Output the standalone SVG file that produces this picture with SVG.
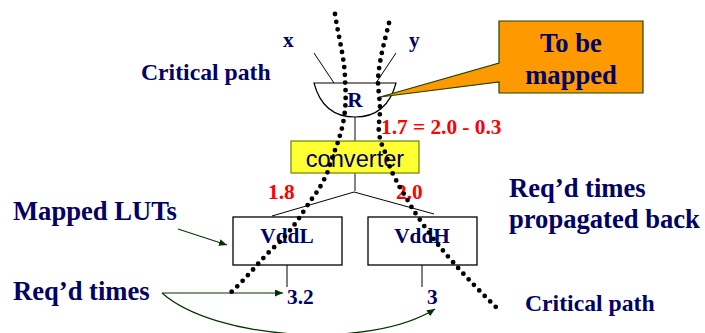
<svg xmlns="http://www.w3.org/2000/svg" width="705" height="333" viewBox="0 0 705 333">
<style>
text{font-family:"Liberation Serif","Times New Roman",serif;font-weight:bold;fill:#000066}
.r{fill:#ff0000}
.l{font-size:26.6px}
.m{font-size:23.7px}
.s{font-size:21.3px}
.ln{fill:none;stroke:#000;stroke-width:1}
.g{fill:none;stroke:#003300;stroke-width:1.2}
.dot{fill:none;stroke:#000;stroke-width:4.8;stroke-linecap:round;stroke-dasharray:0 7.7}
.box{fill:#fff;stroke:#000;stroke-width:1.3}
</style>
<defs>
<marker id="a" markerUnits="userSpaceOnUse" markerWidth="10" markerHeight="8" refX="8" refY="3.5" orient="auto"><path d="M0 0L8 3.5L0 7z" fill="#003300"/></marker>
</defs>
<rect width="705" height="333" fill="#fff"/>
<g id="connectors">
<path class="ln" d="M314 53L334 83M396 53L376 83"/>
<path d="M355 117V141" fill="none" stroke="#444" stroke-width="1.3"/>
<path d="M355 173V191" fill="none" stroke="#444" stroke-width="1.3"/>
<path class="ln" d="M272 216L354 192L434 214"/>
<path class="ln" d="M287 263V287M422 263V287"/>
<path class="g" marker-end="url(#a)" d="M178 229L227 245"/>
<path class="g" marker-end="url(#a)" d="M162 293H283"/>
<path class="g" marker-end="url(#a)" d="M162 293C215 340 370 350 435 309"/>
</g>
<g id="R"><path d="M314 83H396C391 102 380 117 355 117C330 117 319 102 314 83Z" fill="#fff" stroke="#000" stroke-width="1.2"/><text x="355" y="107" text-anchor="middle" class="s">R</text></g>
<g id="converter"><rect x="291" y="141" width="128" height="32" fill="#ffff33" stroke="#668800" stroke-width="1.2"/><text x="355" y="167" text-anchor="middle" style="font-family:'Liberation Sans',Arial,sans-serif;font-weight:normal;font-size:23.6px">converter</text></g>
<g id="VddL"><rect class="box" x="233" y="217" width="109" height="48"/><text x="287" y="243" text-anchor="middle" class="s">VddL</text></g>
<g id="VddH"><rect class="box" x="368" y="217" width="109" height="48"/><text x="422" y="243" text-anchor="middle" class="s">VddH</text></g>
<g id="callout"><path d="M499 21H643V93H499V82L380 97L499 63Z" fill="#ff9900" stroke="#224400" stroke-width="1.2"/><text x="571" y="52" text-anchor="middle" class="l">To be</text><text x="571" y="84" text-anchor="middle" class="l">mapped</text></g>
<g id="labels">
<text x="283" y="47" class="s">x</text>
<text x="409" y="47" class="s">y</text>
<text x="141" y="80" class="m">Critical path</text>
<text x="381" y="134" class="r s">1.7 = 2.0 - 0.3</text>
<text x="268" y="199" class="r s">1.8</text>
<text x="396" y="199" class="r s">2.0</text>
<text x="509" y="197" class="l">Req’d times</text>
<text x="509" y="228" class="l">propagated back</text>
<text x="13" y="220" class="l">Mapped LUTs</text>
<text x="13" y="300" class="l">Req’d times</text>
<text x="287" y="304" class="s">3.2</text>
<text x="427" y="304" class="s">3</text>
<text x="525" y="311" class="m">Critical path</text>
</g>
<g id="critical-paths">
<path class="dot" d="M335 14C339 40 345 60 345 80C346 95 346 105 344 118C342 130 340 135 338 142C335 150 332 158 328 171C320 190 314 195 307 206C295 225 285 238 272 249C258 263 245 280 228 295"/>
<path class="dot" d="M389 23C385 40 379 60 378 80C378 90 380 100 380 110C380 118 378 125 379 133C380 140 382 146 385 152C388 160 389 166 392 172C398 185 405 195 412 208C420 220 430 235 440 247C455 265 476 288 497 308"/>
</g>
</svg>
